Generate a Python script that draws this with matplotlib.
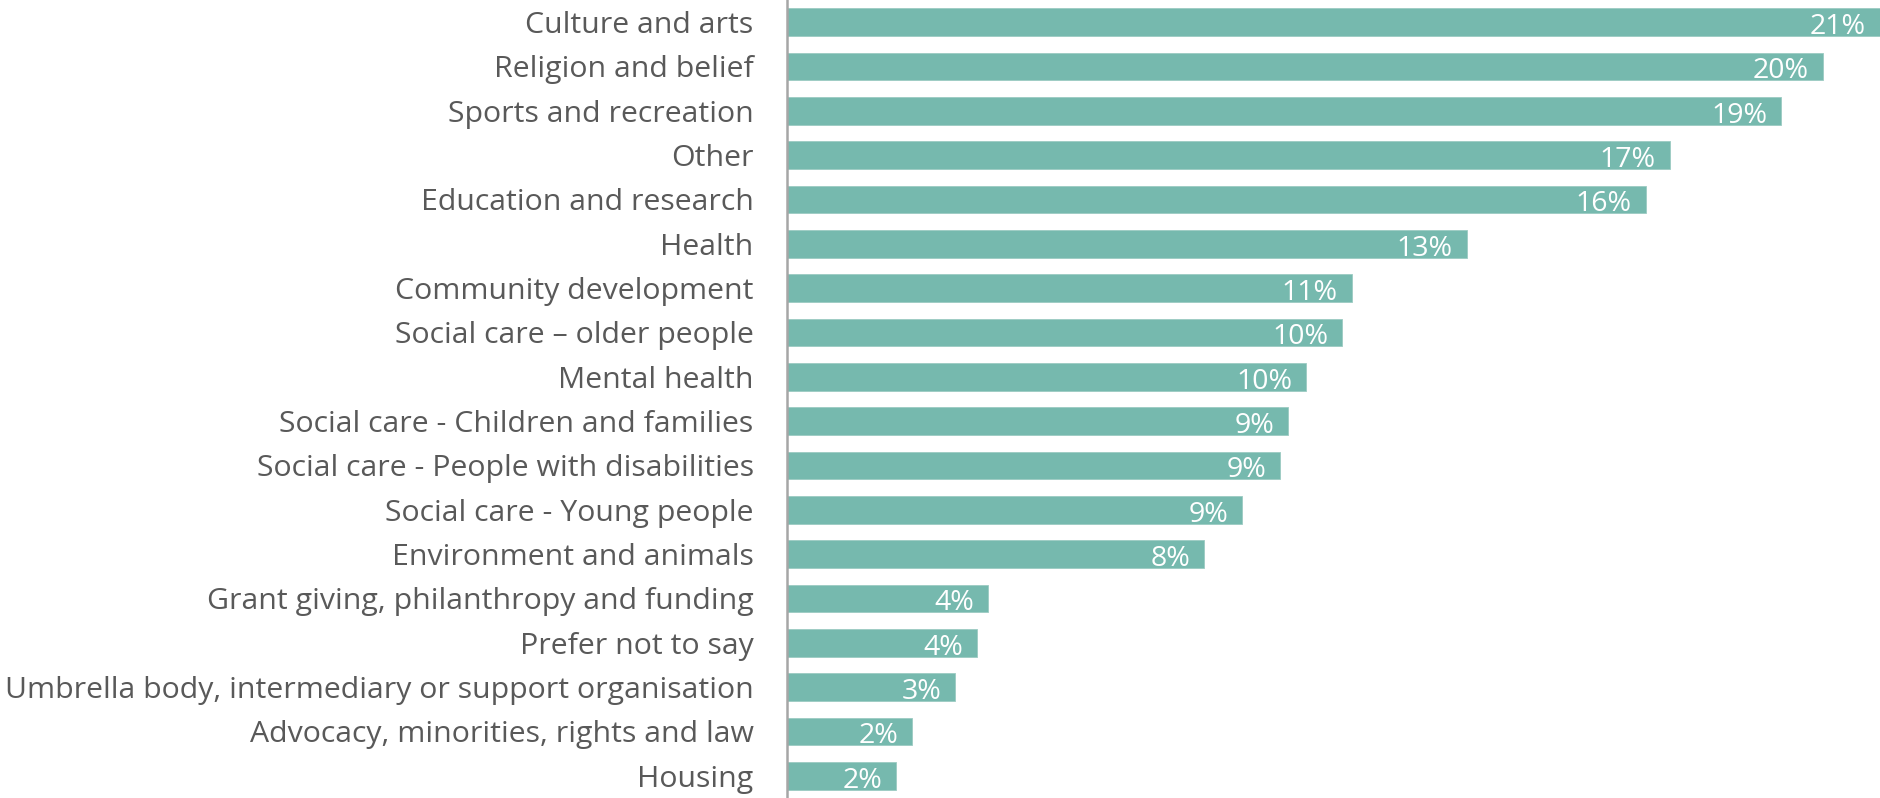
import matplotlib.pyplot as plt

# categorias e valores (%)
categorias = ["Culture and arts", "Religion and belief", "Sports and recreation", "Other",
              "Education and research", "Health", "Community development",
              "Social care \u2013 older people", "Mental health",
              "Social care - Children and families", "Social care - People with disabilities",
              "Social care - Young people", "Environment and animals",
              "Grant giving, philanthropy and funding", "Prefer not to say",
              "Umbrella body, intermediary or support organisation",
              "Advocacy, minorities, rights and law", "Housing"]
valores = [21.0, 19.9, 19.1, 16.96, 16.5, 13.06, 10.85, 10.67, 9.98,
           9.63, 9.47, 8.75, 8.02, 3.87, 3.66, 3.23, 2.4, 2.1]
rotulos = ["21%", "20%", "19%", "17%", "16%", "13%", "11%", "10%", "10%",
           "9%", "9%", "9%", "8%", "4%", "4%", "3%", "2%", "2%"]

plt.rcParams['font.family'] = ['Open Sans', 'DejaVu Sans']

fig = plt.figure(figsize=(18.8, 7.98), dpi=100)
ax = fig.add_axes([0.4186, 0.0, 0.5814, 1.0])

cor = "#76B9AE"
pos = range(len(categorias))
ax.barh(pos, valores, height=0.62, color=cor, edgecolor="#9ccbc2", linewidth=0.6)

for i, (v, r) in enumerate(zip(valores, rotulos)):
    ax.annotate(r, (v, i), xytext=(-10, -1), textcoords="offset points",
                ha="right", va="center_baseline", color="white", fontsize=20.5)

ax.set_xlim(0, 21.0)
ax.set_ylim(17.5, -0.5)
ax.set_yticks(list(pos))
ax.set_yticklabels(categorias, fontsize=21.8, color="#595959")
ax.tick_params(axis="y", length=0, pad=24)
ax.set_xticks([])

for s in ["top", "right", "bottom"]:
    ax.spines[s].set_visible(False)
ax.spines["left"].set_color("#a6a6a6")
ax.spines["left"].set_linewidth(1.8)

fig.savefig("out.png", dpi=100)
